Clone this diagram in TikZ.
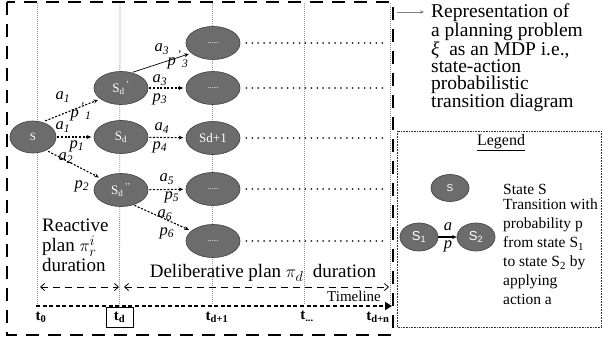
\documentclass[tikz,border=0pt]{standalone}
\usepackage{fontspec}
\setmainfont{Liberation Serif}
\newfontfamily\sansf{Liberation Sans}
\usetikzlibrary{shapes.geometric,arrows.meta}
\definecolor{stfill}{RGB}{108,108,108}
\definecolor{stedge}{RGB}{72,72,72}
\definecolor{vline}{RGB}{150,150,150}
\newcommand\lab[2]{\textit{#1}\textsubscript{\textit{#2}}}
\newcommand\plab[2]{\textit{#1}\textsuperscript{\,'}\textsubscript{\textit{#2}}}
\begin{document}
\begin{tikzpicture}[x=1pt,y=-1pt,
  st/.style={ellipse,fill=stfill,draw=stedge,line width=0.7pt,minimum width=54pt,
    minimum height=33pt,inner sep=0pt,text=white,font=\fontsize{13}{13}\selectfont},
  tr/.style={draw=black,line width=1.1pt,dash pattern=on 2pt off 1.6pt,
    -{Stealth[length=4.5pt,width=4pt]},shorten <=1pt,shorten >=2.5pt},
  trsolid/.style={draw=black,line width=0.7pt,-{Stealth[length=4.5pt,width=4pt]},
    shorten <=1pt,shorten >=2.5pt},
  tail/.style={draw=black!85,line width=2pt,line cap=round,dash pattern=on 0.01pt off 5.9pt},
  vl/.style={draw=vline,line width=0.8pt,dash pattern=on 1pt off 1pt},
  lbl/.style={inner sep=0pt,font=\fontsize{16.5}{16.5}\selectfont},
  tlab/.style={inner sep=1pt,font=\fontsize{15}{15}\selectfont\bfseries},
  big/.style={inner sep=0pt,font=\fontsize{19}{20}\selectfont},
  durarrow/.style={draw=black,line width=0.8pt,dash pattern=on 7pt off 5pt,
    {Straight Barb[length=4pt,width=7pt]}-{Straight Barb[length=4pt,width=7pt]}},
]
\useasboundingbox (0,0) rectangle (602,343);

% time grid: vertical dotted lines
\coordinate (top0) at (37,3);   \coordinate (bot0) at (37,305);
\coordinate (topd) at (120,3);
\coordinate (top1) at (212,3);  \coordinate (bot1) at (212,305);
\coordinate (top2) at (304,3);  \coordinate (bot2) at (304,305);
\coordinate (top3) at (390,3);  \coordinate (bot3) at (390,305);

% time labels
\node[tlab] (t0) at (41,317) {t\textsubscript{0}};
\node[tlab,draw,line width=0.9pt,minimum width=27pt,minimum height=20pt] (td) at (119.5,317) {t\textsubscript{d}};
\node[tlab] (t1) at (217,317) {t\textsubscript{d+1}};
\node[tlab] (tdots) at (307,316) {t\textsubscript{...}};
\node[tlab] (tn) at (378,317) {t\textsubscript{d+n}};

\draw[vl] (top0) -- (bot0);
\draw[vl] (topd) -- (td.north);
\draw[vl] (top1) -- (bot1);
\draw[vl] (top2) -- (bot2);
\draw[vl] (top3) -- (bot3);

% timeline
\coordinate (tls) at (36,306);
\coordinate (tle) at (392,306);
\draw[line width=2.2pt,dash pattern=on 4pt off 2.6pt,-{Triangle[length=7pt,width=8pt]}] (tls) -- (tle);
\node[inner sep=0pt,font=\fontsize{15}{15}\selectfont] (tl) at (354,296) {Timeline};

% plan durations
\coordinate (r1) at (40,287);  \coordinate (r2) at (119,287);
\coordinate (d1) at (124,287); \coordinate (d2) at (389,287);
\draw[durarrow] (r1) -- (r2);
\draw[durarrow] (d1) -- (d2);
\node[big,align=left,anchor=north west] (react) at (42,219) {Reactive\\plan $\pi_r^i$\\duration};
\node[big] (delib) at (263,273) {Deliberative plan $\pi_d$\ \ duration};

% states
\node[st,minimum width=46pt,minimum height=32pt,font=\fontsize{11}{11}\selectfont] (S) at (33,137) {S};
\node[st] (Sa) at (121,88) {S\textsubscript{d}\textsuperscript{\,’}};
\node[st] (Sd) at (121,137) {S\textsubscript{d}};
\node[st] (Sb) at (121,190) {S\textsubscript{d}\textsuperscript{\,’’}};
\node[st,font=\fontsize{9}{9}\selectfont] (N1) at (213,43) {.....};
\node[st,font=\fontsize{9}{9}\selectfont] (N2) at (213,88) {.....};
\node[st] (N3) at (213,138) {Sd+1};
\node[st,font=\fontsize{9}{9}\selectfont] (N4) at (213,189) {.....};
\node[st,font=\fontsize{9}{9}\selectfont] (N5) at (213,241) {.....};

% continuation of each branch
\foreach \n/\y in {N1/43,N2/88,N3/138,N4/189,N5/241}{
  \coordinate (\n e) at (386,\y);
  \draw[tail] ([xshift=6pt]\n.east) -- (\n e);
}

% transitions
\draw[tr,shorten <=3pt] (S.58) -- (Sa.208);
\draw[tr] (S) -- (Sd);
\draw[tr,shorten <=2pt] (S.-45) -- (Sb.150);
\draw[trsolid] (Sa.55) -- (N1.205);
\draw[tr] (Sa) -- (N2);
\draw[tr] (Sd) -- (N3);
\draw[tr] (Sb) -- (N4);
\draw[tr] (Sb.-50) -- (N5.155);

\node[lbl] (la1) at (63,97) {\lab{a}{1}};
\node[lbl] (lp1) at (81,112) {\plab{p}{1}};
\node[lbl] (lb1) at (63,127) {\lab{a}{1}};
\node[lbl] (lq1) at (77,146) {\lab{p}{1}};
\node[lbl] (la2) at (66,158) {\lab{a}{2}};
\node[lbl] (lp2) at (82,186) {\lab{p}{2}};
\node[lbl] (la3) at (162,49) {\lab{a}{3}};
\node[lbl] (lp3) at (178,60) {\plab{p}{3}};
\node[lbl] (lb3) at (160,80) {\lab{a}{3}};
\node[lbl] (lq3) at (160,99) {\lab{p}{3}};
\node[lbl] (la4) at (162,128) {\lab{a}{4}};
\node[lbl] (lp4) at (160,147) {\lab{p}{4}};
\node[lbl] (la5) at (167,179) {\lab{a}{5}};
\node[lbl] (lp5) at (172,197) {\lab{p}{5}};
\node[lbl] (la6) at (165,215) {\lab{a}{6}};
\node[lbl] (lp6) at (167,233) {\lab{p}{6}};

% frame of the MDP
\draw[line width=2.2pt,dash pattern=on 13pt off 9pt] (7,2) rectangle (393,335);

% description
\coordinate (pa) at (397,12);
\coordinate (pb) at (424,12);
\draw[draw=gray,line width=0.8pt,-{Stealth[length=4pt,width=3.5pt]}] (pa) -- (pb);
\node[inner sep=0pt,align=left,anchor=north west,font=\fontsize{19.5}{16.8}\selectfont] (rep) at (431,4)
  {Representation of\\a planning problem\\{\itshape ξ}\ \ as an MDP i.e.,\\state-action\\probabilistic\\transition diagram};

% legend
\draw[draw=black!80,line width=0.8pt,dash pattern=on 0.8pt off 0.8pt] (397,131) rectangle (601,327);
\node[inner sep=0pt,font=\fontsize{16}{16}\selectfont] (leg) at (501,143) {\underline{Legend}};
\node[st,minimum width=38pt,minimum height=27pt,font=\sansf\fontsize{10}{10}\selectfont] (lS) at (450,188) {S};
\node[st,minimum width=38pt,minimum height=28pt,font=\sansf\fontsize{13}{13}\selectfont] (l1) at (419,237) {S\textsubscript{1}};
\node[st,minimum width=38pt,minimum height=28pt,font=\sansf\fontsize{13}{13}\selectfont] (l2) at (476,237) {S\textsubscript{2}};
\draw[line width=1.5pt,-{Stealth[length=4.5pt,width=4pt]}] (l1) -- (l2);
\node[lbl] (lga) at (448,227) {\textit{a}};
\node[lbl] (lgp) at (448,246) {\textit{p}};
\node[inner sep=0pt,anchor=west,font=\fontsize{15.5}{15.5}\selectfont] (ls) at (503,189) {State S};
\node[inner sep=0pt,align=left,anchor=north west,font=\fontsize{15.5}{19}\selectfont] (lt) at (503,199)
  {Transition with\\probability p\\from state S\textsubscript{1}\\to state S\textsubscript{2} by\\applying\\action a};
\end{tikzpicture}
\end{document}
